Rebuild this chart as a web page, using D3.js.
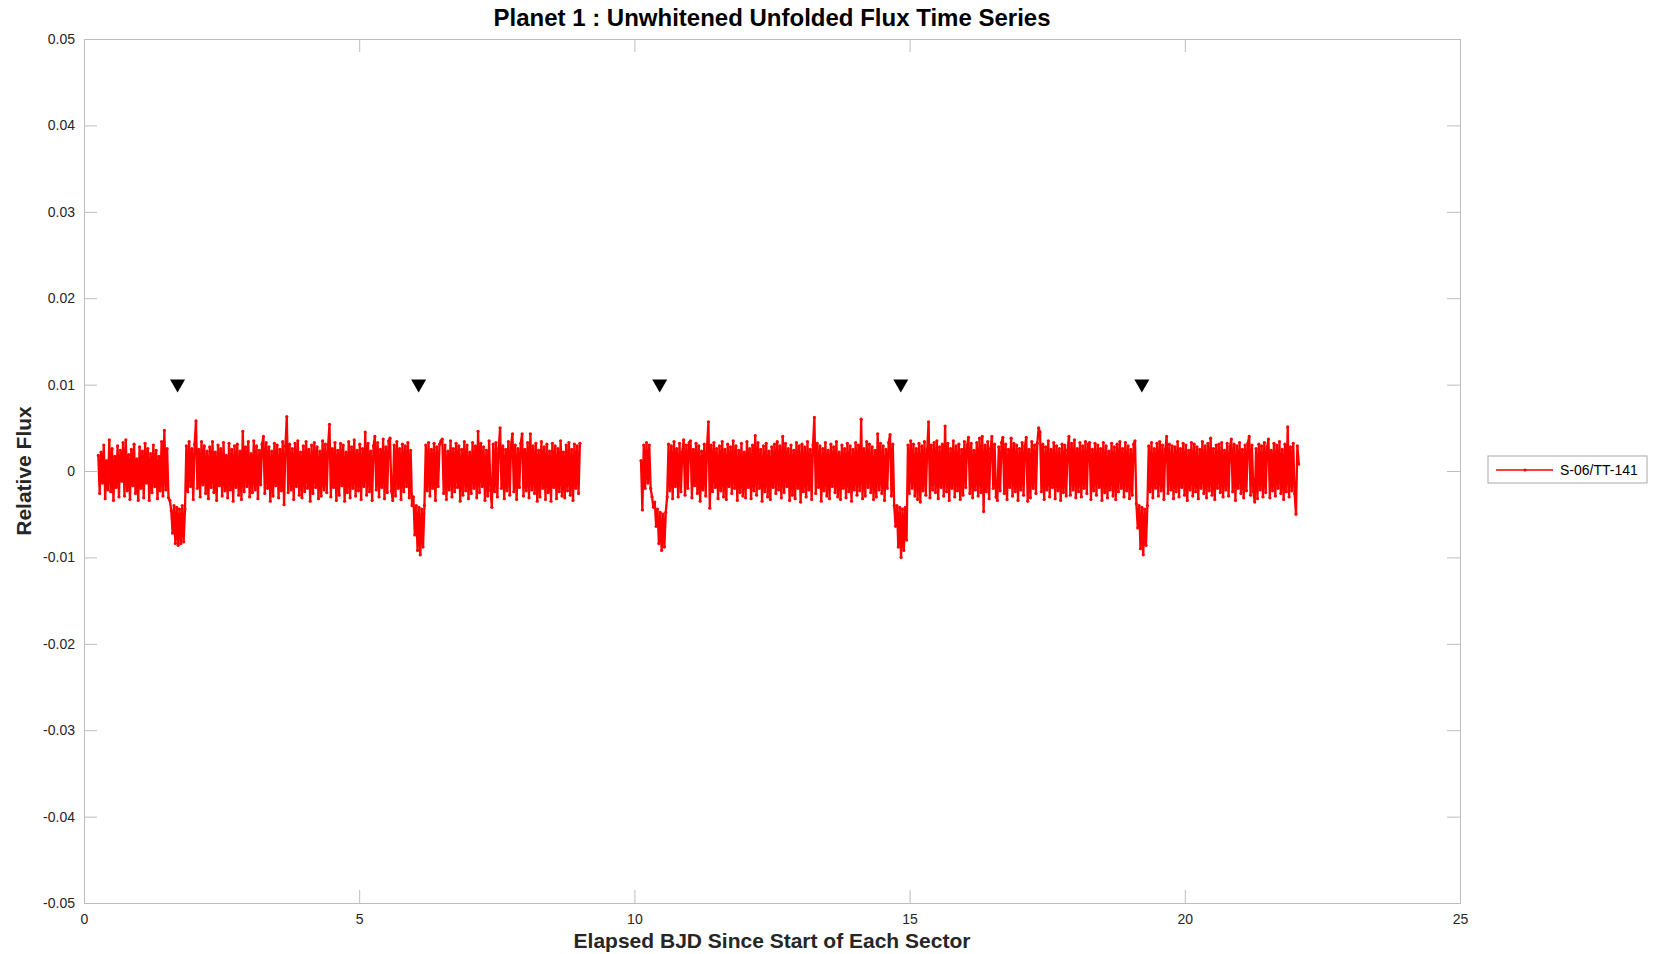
<!DOCTYPE html>
<html><head><meta charset="utf-8">
<script src="https://cdn.jsdelivr.net/npm/d3@7"></script>
<style>body{margin:0;background:#fff}svg{display:block}</style>
</head><body>
<svg id="chart" width="1656" height="954"></svg>
<script>
// ---------------- data ----------------
const chartTitle = "Planet 1 : Unwhitened Unfolded Flux Time Series";
const xLabel = "Elapsed BJD Since Start of Each Sector";
const yLabel = "Relative Flux";
const seriesName = "S-06/TT-141";
const xTicks = [0, 5, 10, 15, 20, 25];
const xTickLabels = ["0", "5", "10", "15", "20", "25"];
const yTicks = [-0.05, -0.04, -0.03, -0.02, -0.01, 0, 0.01, 0.02, 0.03, 0.04, 0.05];
const yTickLabels = ["-0.05", "-0.04", "-0.03", "-0.02", "-0.01", "0", "0.01", "0.02", "0.03", "0.04", "0.05"];
const cadenceDays = 0.025;          // sampling step of the plotted points
const fluxUnit = 1e-4;              // flux values below are in units of 1e-4
// first orbit of the sector
const segAStart = 0.26;
const fluxA = [
 18,-26,22,-14,30,-32,12,-22,36,-24,
 26,-34,17,-19,29,-30,24,-12,33,-29,
 36,-23,19,-33,25,-17,31,-26,14,-34,
 28,-20,23,-31,32,-14,26,-34,20,-25,
 30,-18,24,-32,17,-23,34,-29,47,-22,
 26,-31,-34,-46,-72,-40,-84,-42,-86,-44,
 -84,-40,-82,-44,29,-24,34,-18,26,-33,
 31,58,-20,25,-30,34,-16,29,-26,23,
 -32,28,-19,34,-25,22,-34,30,-17,26,
 -29,33,-23,18,-31,32,-22,25,-35,29,
 -19,31,-28,23,-33,46,-24,28,-18,34,
 -30,20,-25,35,-22,29,-32,24,-16,31,
 40,-26,33,-20,28,-35,23,-29,32,-17,
 30,-31,25,-23,34,-39,29,63,-25,31,
 -22,26,-33,32,-18,35,-28,22,-31,29,
 -24,34,-20,25,-35,30,-26,33,-19,28,
 -32,23,-29,35,-22,31,-25,29,54,-30,
 26,-19,33,-34,24,-28,32,-17,30,-35,
 22,-25,34,-31,28,-20,36,-29,24,-23,
 31,-33,26,-18,45,-28,32,-24,23,-34,
 29,40,-22,33,-30,25,-19,37,-32,28,
 -25,35,38,-23,-34,30,-29,34,-20,26,
 -33,31,-24,29,-18,33,-31,24,-40,-30,
 -74,-40,-92,-42,-97,-44,-88,-40,30,-23,
 33,-29,25,-20,32,-34,28,-18,31,35,
 37,-26,30,-33,23,-22,35,-30,26,-24,
 32,-19,29,-35,25,-28,34,-23,30,-32,
 22,-26,33,-20,29,-31,46,-25,32,-18,
 28,-34,24,-29,35,-22,-42,31,-24,33,
 -30,26,50,-20,29,-32,25,-23,34,-28,
 31,43,-24,30,-33,26,-19,32,43,-29,
 25,-23,33,-31,43,-22,29,-26,32,-35,
 24,-30,34,-20,28,-33,31,-25,23,-35,
 32,-19,29,-32,26,-24,35,-29,22,-31,
 30,-23,33,-28,25,-34,31,-20,29,-26,
 32
];
// second orbit of the sector
const segBStart = 10.12;
const fluxB = [
 12,-45,30,-20,33,-14,30,-20,-30,-42,
 -36,-64,-44,-84,-48,-92,-50,-88,-48,-30,
 31,-23,29,-32,34,-18,26,-30,32,-24,
 22,36,-28,30,-20,33,35,-31,25,-17,
 32,-26,29,-35,23,-22,31,-29,28,57,
 -43,30,-24,33,-19,26,-32,29,-23,34,
 -30,25,-33,31,-18,28,-26,35,-20,29,
 -34,24,-25,32,-29,22,-31,34,-19,26,
 -32,30,-23,41,-28,33,-20,25,-35,29,
 -24,32,-30,23,-33,28,-19,31,-26,34,
 -22,29,-31,40,-25,32,-18,26,-34,30,
 -28,24,-32,33,-20,29,-36,31,-24,28,
 -30,34,-22,25,-33,30,62,-26,32,-19,
 29,-35,26,-23,33,-29,24,-32,31,-18,
 28,-25,34,-30,22,-33,30,-20,26,-31,
 32,-24,29,-35,25,-22,33,-28,30,-23,
 60,-32,26,-29,34,-19,31,-25,28,-33,
 24,-30,43,-22,32,-26,29,-34,25,-20,
 33,42,-29,31,-40,-64,-40,-88,-42,-100,
 -44,-92,-42,-80,30,-26,35,-20,31,-29,
 26,-33,32,-36,29,-23,34,-28,25,57,
 -31,30,-22,33,-25,35,-32,28,-19,31,
 -29,52,-24,32,-34,26,-20,35,-30,29,
 -23,31,-33,25,-28,34,-19,30,39,-26,
 32,-31,24,-22,33,-29,38,-25,40,-47,
 30,-24,34,-32,26,40,-20,31,-30,-34,
 28,-23,33,39,-26,31,-33,25,-19,38,
 -29,32,-24,30,-34,26,-22,33,-28,29,
 39,-35,25,-31,34,-20,30,-26,32,50,
 45,-24,31,-33,28,-22,35,-30,25,-19,
 33,-32,29,-23,26,-34,31,-25,30,-29,
 24,40,-28,32,-22,36,-31,26,-24,33,
 -30,29,-20,34,-26,31,33,-33,25,-23,
 32,-28,30,-19,26,-34,33,-25,29,-31,
 23,-22,32,-29,28,-33,31,-24,34,-20,
 26,-30,33,-23,29,-32,25,-28,31,35,
 -38,-66,-40,-90,-42,-97,-44,-86,-40,29,
 -24,33,-31,26,-20,32,-29,34,-23,30,
 -33,25,40,-26,31,-22,29,-32,28,-24,
 34,-30,26,-19,32,-28,30,-34,24,-22,
 33,-29,31,-24,28,-32,25,-20,34,-26,
 29,-31,32,-23,38,-28,26,-33,30,-20,
 31,-25,33,-30,24,-22,32,-29,28,37,
 -24,31,-34,29,-20,33,-26,25,-31,30,
 -23,32,40,-28,30,-24,-36,26,-32,31,
 -22,29,-30,33,-25,28,37,-31,24,-23,
 32,-29,30,-20,34,-26,25,-33,31,-24,
 51,-30,28,-23,32,-26,-50,29,8
];
const transitTimes = [1.70, 6.08, 10.46, 14.84, 19.22];
const transitMarkerFlux = 0.01;

// ---------------- layout ----------------
const W = 1656, H = 954;
const plot = {left: 84, right: 1460, top: 39, bottom: 903};
const FONT = "'Liberation Sans', Arial, Helvetica, sans-serif";
const axisGray = "#bdbdbd";
const textDark = "#262626";
const tickLen = 13;

const svg = d3.select("#chart");
svg.append("rect").attr("width", W).attr("height", H).attr("fill", "#fff");

const x = d3.scaleLinear().domain([0, 25]).range([plot.left, plot.right]);
const y = d3.scaleLinear().domain([-0.05, 0.05]).range([plot.bottom, plot.top]);

function styleAxis(g, showLabels) {
  g.select(".domain").attr("stroke", axisGray).attr("stroke-width", 1);
  g.selectAll(".tick line").attr("stroke", axisGray).attr("stroke-width", 1);
  g.selectAll(".tick text").attr("fill", textDark).style("font-family", FONT).style("font-size", "14px");
  if (!showLabels) g.selectAll(".tick text").remove();
}
const xAxisB = d3.axisBottom(x).tickValues(xTicks).tickFormat((d, i) => xTickLabels[i])
  .tickSizeInner(-tickLen).tickSizeOuter(0).tickPadding(11);
const xAxisT = d3.axisTop(x).tickValues(xTicks).tickFormat(() => "")
  .tickSizeInner(-tickLen).tickSizeOuter(0);
const yAxisL = d3.axisLeft(y).tickValues(yTicks).tickFormat((d, i) => yTickLabels[i])
  .tickSizeInner(-tickLen).tickSizeOuter(0).tickPadding(9);
const yAxisR = d3.axisRight(y).tickValues(yTicks).tickFormat(() => "")
  .tickSizeInner(-tickLen).tickSizeOuter(0);

svg.append("g").attr("transform", `translate(0,${plot.bottom})`).call(xAxisB).call(g => styleAxis(g, true));
svg.append("g").attr("transform", `translate(0,${plot.top})`).call(xAxisT).call(g => styleAxis(g, false));
svg.append("g").attr("transform", `translate(${plot.left},0)`).call(yAxisL).call(g => styleAxis(g, true));
svg.append("g").attr("transform", `translate(${plot.right},0)`).call(yAxisR).call(g => styleAxis(g, false));

svg.append("clipPath").attr("id", "clip").append("rect")
  .attr("x", plot.left).attr("y", plot.top)
  .attr("width", plot.right - plot.left).attr("height", plot.bottom - plot.top);

const segments = [
  {start: segAStart, values: fluxA},
  {start: segBStart, values: fluxB}
].map(s => s.values.map((v, i) => ({t: s.start + i * cadenceDays, f: v * fluxUnit})));

const line = d3.line().x(d => x(d.t)).y(d => y(d.f));
const dataG = svg.append("g").attr("clip-path", "url(#clip)");
segments.forEach(seg => {
  dataG.append("path").datum(seg).attr("d", line)
    .attr("fill", "none").attr("stroke", "#ff0000").attr("stroke-width", 2.3)
    .attr("stroke-linejoin", "miter").attr("stroke-miterlimit", 2);
  dataG.selectAll(null).data(seg).enter().append("circle")
    .attr("cx", d => x(d.t)).attr("cy", d => y(d.f)).attr("r", 1.6).attr("fill", "#ff0000");
});

// transit markers (downward triangles)
const triW = 15, triUp = 5, triDown = 8;
dataG.selectAll(".tri").data(transitTimes).enter().append("path")
  .attr("class", "tri")
  .attr("d", t => {
    const cx = x(t), cy = y(transitMarkerFlux);
    return `M${cx - triW / 2},${cy - triUp}L${cx + triW / 2},${cy - triUp}L${cx},${cy + triDown}Z`;
  })
  .attr("fill", "#000");

// titles
svg.append("text").attr("x", (plot.left + plot.right) / 2).attr("y", 26)
  .attr("text-anchor", "middle").style("font-family", FONT).style("font-weight", "bold")
  .style("font-size", "24px").attr("fill", "#000").text(chartTitle);
svg.append("text").attr("x", (plot.left + plot.right) / 2).attr("y", 948)
  .attr("text-anchor", "middle").style("font-family", FONT).style("font-weight", "bold")
  .style("font-size", "21px").attr("fill", textDark).text(xLabel);
svg.append("text").attr("transform", `translate(31,${(plot.top + plot.bottom) / 2}) rotate(-90)`)
  .attr("text-anchor", "middle").style("font-family", FONT).style("font-weight", "bold")
  .style("font-size", "21px").attr("fill", textDark).text(yLabel);

// legend
const lg = svg.append("g").attr("transform", "translate(1488,456)");
lg.append("rect").attr("width", 159).attr("height", 27).attr("fill", "#fff")
  .attr("stroke", "#a8a8a8").attr("stroke-width", 1);
lg.append("line").attr("x1", 8).attr("x2", 65).attr("y1", 14).attr("y2", 14)
  .attr("stroke", "#ff0000").attr("stroke-width", 1.4);
lg.append("circle").attr("cx", 37).attr("cy", 14).attr("r", 1.6).attr("fill", "#ff0000");
lg.append("text").attr("x", 72).attr("y", 19).style("font-family", FONT)
  .style("font-size", "14px").attr("fill", "#000").text(seriesName);
</script>
</body></html>
